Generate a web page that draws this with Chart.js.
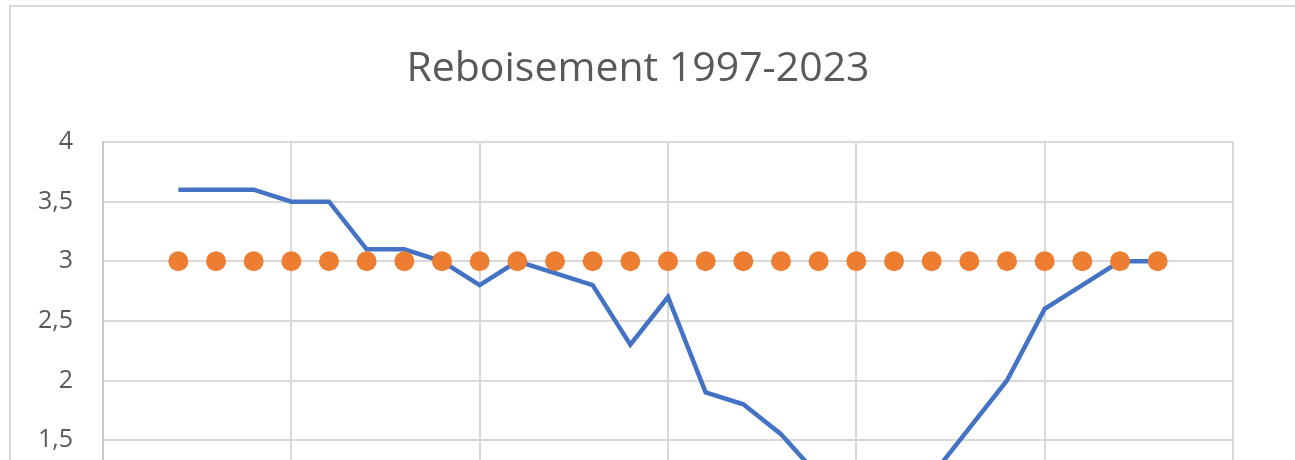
<!DOCTYPE html>
<html>
<head>
<meta charset="utf-8">
<script src="https://cdn.jsdelivr.net/npm/chart.js@4"></script>
<style>
  html, body { margin: 0; padding: 0; background: #fff; overflow: hidden; }
  #cadre { position: absolute; left: 9px; top: 5px; width: 1400px; height: 900px; border: 2px solid #d9d9d9; }
  #zone { position: absolute; left: 0; top: 0; width: 1320px; height: 720px; }
</style>
</head>
<body>
<div id="cadre"></div>
<div id="zone"><canvas id="graphique"></canvas></div>
<script>
// Années et valeurs
const annees = [1997, 1998, 1999, 2000, 2001, 2002, 2003, 2004, 2005, 2006, 2007, 2008, 2009, 2010,
                2011, 2012, 2013, 2014, 2015, 2016, 2017, 2018, 2019, 2020, 2021, 2022, 2023];
const reboisement = [3.6, 3.6, 3.6, 3.5, 3.5, 3.1, 3.1, 3.0, 2.8, 3.0, 2.9, 2.8, 2.3, 2.7,
                     1.9, 1.8, 1.55, 1.2, 1.0, 1.0, 1.2, 1.6, 2.0, 2.6, 2.8, 3.0, 3.0];
const objectif = [3, 3, 3, 3, 3, 3, 3, 3, 3, 3, 3, 3, 3, 3,
                  3, 3, 3, 3, 3, 3, 3, 3, 3, 3, 3, 3, 3];

const titre = "Reboisement 1997-2023";

// Points {x, y} pour l'axe linéaire des années
const pointsReboisement = annees.map((a, i) => ({ x: a, y: reboisement[i] }));
const pointsObjectif = annees.map((a, i) => ({ x: a, y: objectif[i] }));

const ctx = document.getElementById("graphique").getContext("2d");

new Chart(ctx, {
    type: 'scatter',
    data: {
        datasets: [
            {
                label: 'Objectif',
                data: pointsObjectif,
                showLine: false,
                pointRadius: 10,
                pointHoverRadius: 10,
                pointBackgroundColor: '#ED7D31',
                pointBorderWidth: 0,
                borderColor: '#ED7D31'
            },
            {
                label: 'Reboisement',
                data: pointsReboisement,
                showLine: true,
                borderColor: '#4472C4',
                borderWidth: 4.5,
                pointRadius: 0,
                tension: 0
            }
        ]
    },
    options: {
        responsive: true,
        maintainAspectRatio: false,
        animation: false,
        layout: { padding: { top: 0, left: 0, right: 44, bottom: 0 } },
        plugins: {
            legend: { display: false },
            tooltip: { enabled: false },
            title: {
                display: true,
                text: titre,
                color: '#595959',
                font: { family: 'Open Sans', size: 41, weight: 'normal', lineHeight: 1.2 },
                padding: { top: 45, bottom: 47.8 }
            }
        },
        scales: {
            x: {
                type: 'linear',
                min: 1995,
                max: 2025,
                ticks: { stepSize: 5, color: '#595959', font: { family: 'Open Sans', size: 24 } },
                grid: { color: '#d9d9d9', lineWidth: 2, drawTicks: false },
                border: { color: '#d9d9d9', width: 2 },
                afterFit: axe => { axe.height = 101; }
            },
            y: {
                min: 0,
                max: 4,
                ticks: {
                    stepSize: 0.5,
                    padding: 30,
                    color: '#595959',
                    font: { family: 'Open Sans', size: 25 },
                    callback: v => String(v).replace('.', ',')
                },
                grid: { color: '#d9d9d9', lineWidth: 2, drawTicks: false },
                border: { color: '#c8c8c8', width: 2 },
                afterFit: axe => { axe.width = 103; }
            },
            // axe vide à droite : réserve la marge pour centrer le titre sur le cadre
            yVide: {
                position: 'right',
                min: 0,
                max: 4,
                grid: { display: false },
                border: { display: false },
                ticks: { display: false },
                afterFit: axe => { axe.width = 43; }
            }
        }
    }
});
</script>
</body>
</html>
